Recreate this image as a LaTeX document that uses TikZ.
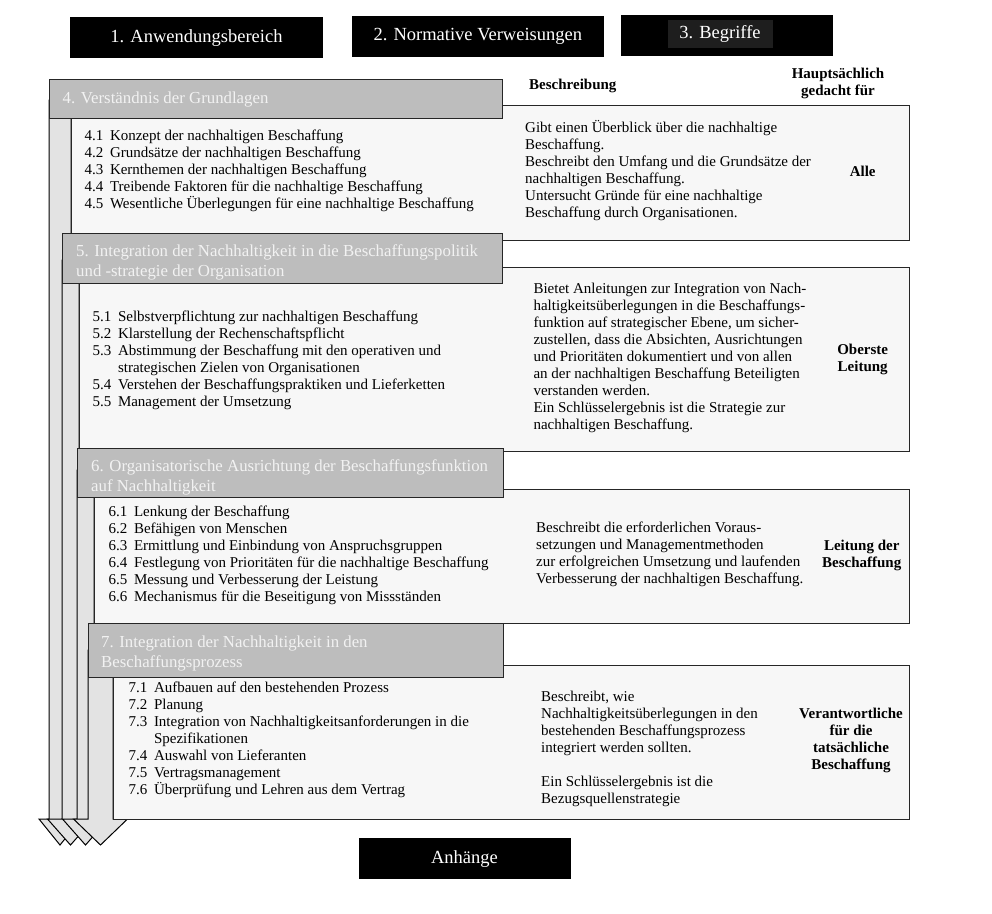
\documentclass[tikz,border=0pt]{standalone}
\usepackage{fontspec}
\setmainfont{Liberation Serif}
\definecolor{panelfill}{HTML}{F7F7F7}
\definecolor{shaftfill}{HTML}{E3E3E3}
\definecolor{hdrfill}{HTML}{BDBDBD}
\definecolor{hdrtext}{HTML}{F2F2F2}
\definecolor{edge}{HTML}{262626}
\definecolor{innerdark}{HTML}{1E1E1E}
\newcommand\secitem[2]{\makebox[25.5pt][l]{#1}#2}
\newcommand\secindent{\hspace*{25.5pt}}
\tikzset{
  topbox/.style={fill=black, text=white, font=\fontsize{18.5}{22}\selectfont, inner sep=0pt, minimum height=41pt},
  panel/.style={draw=edge, fill=panelfill, line width=1.3pt, anchor=north west, inner sep=0pt},
  hdr/.style={draw=edge, fill=hdrfill, line width=1.3pt, anchor=north west, inner sep=0pt},
  hdrtxt/.style={anchor=north west, inner sep=0pt, text=hdrtext, align=left, font=\fontsize{16.8}{20}\selectfont},
  body/.style={anchor=north west, inner sep=0pt, align=left, font=\fontsize{15}{17}\selectfont},
  who/.style={inner sep=0pt, align=center, font=\fontsize{15}{17}\selectfont\bfseries},
  shaft/.style={draw=black, fill=shaftfill, line width=1pt, line join=miter},
}
\begin{document}
\begin{tikzpicture}[x=1pt,y=-1pt]
\fill[white] (0,0) rectangle (992,913);
\useasboundingbox (0,0) rectangle (992,913);

% top boxes
\node[topbox, minimum width=253pt] (b1) at (196.5,37.8) {1. Anwendungsbereich};
\node[topbox, minimum width=252pt] (b2) at (477.8,36.2) {2. Normative Verweisungen};
\node[topbox, minimum width=212pt] (b3) at (727.2,35) {};
\node[fill=innerdark, inner sep=0pt, minimum width=105pt, minimum height=28pt, text=white, font=\fontsize{18.5}{22}\selectfont] (b3t) at (720,34) {3. Begriffe};

% column headings
\node[anchor=west, inner sep=0pt, font=\fontsize{15}{17}\selectfont\bfseries] (colA) at (529,85.5) {Beschreibung};
\node[who] (colB) at (838,83) {Hauptsächlich\\gedacht für};

% ---------- section 4
\draw[shaft] (49,100) -- (49,819) -- (39,819) -- (60,845) -- (81,819) -- (71,819) -- (71,100) -- cycle;
\node[panel, minimum width=838pt, minimum height=135pt] (p4) at (71,105) {};
\node[hdr, minimum width=453pt, minimum height=39pt] (h4) at (49,79) {};
\node[hdrtxt] (h4t) at (62.5,89) {\strut 4. Verständnis der Grundlagen};
\node[body] (i4) at (84.3,128.8) {\strut\secitem{4.1}{Konzept der nachhaltigen Beschaffung}\\
\secitem{4.2}{Grundsätze der nachhaltigen Beschaffung}\\
\secitem{4.3}{Kernthemen der nachhaltigen Beschaffung}\\
\secitem{4.4}{Treibende Faktoren für die nachhaltige Beschaffung}\\
\secitem{4.5}{Wesentliche Überlegungen für eine nachhaltige Beschaffung}};
\node[body] (d4) at (525,119.8) {\strut Gibt einen Überblick über die nachhaltige\\
Beschaffung.\\
Beschreibt den Umfang und die Grundsätze der\\
nachhaltigen Beschaffung.\\
Untersucht Gründe für eine nachhaltige\\
Beschaffung durch Organisationen.};
\node[who] (w4) at (862.7,171) {Alle};

% ---------- section 5
\draw[shaft] (62,260) -- (62,819) -- (47.5,819) -- (70.5,845) -- (93.5,819) -- (79,819) -- (79,260) -- cycle;
\node[panel, minimum width=830pt, minimum height=184pt] (p5) at (79,267) {};
\node[hdr, minimum width=440pt, minimum height=50pt] (h5) at (62,233) {};
\node[hdrtxt] (h5t) at (76,241.8) {\strut 5. Integration der Nachhaltigkeit in die Beschaffungspolitik\\
und -strategie der Organisation};
\node[body] (i5) at (92.3,309.8) {\strut\secitem{5.1}{Selbstverpflichtung zur nachhaltigen Beschaffung}\\
\secitem{5.2}{Klarstellung der Rechenschaftspflicht}\\
\secitem{5.3}{Abstimmung der Beschaffung mit den operativen und}\\
\secindent strategischen Zielen von Organisationen\\
\secitem{5.4}{Verstehen der Beschaffungspraktiken und Lieferketten}\\
\secitem{5.5}{Management der Umsetzung}};
\node[body] (d5) at (533.3,281.4) {\strut Bietet Anleitungen zur Integration von Nach-\\
haltigkeitsüberlegungen in die Beschaffungs-\\
funktion auf strategischer Ebene, um sicher-\\
zustellen, dass die Absichten, Ausrichtungen\\
und Prioritäten dokumentiert und von allen\\
an der nachhaltigen Beschaffung Beteiligten\\
verstanden werden.\\
Ein Schlüsselergebnis ist die Strategie zur\\
nachhaltigen Beschaffung.};
\node[who] (w5) at (862.7,359) {Oberste\\Leitung};

% ---------- section 6
\draw[shaft] (77,470) -- (77,819) -- (62.5,819) -- (85.5,845) -- (108.5,819) -- (94,819) -- (94,470) -- cycle;
\node[panel, minimum width=815pt, minimum height=134pt] (p6) at (94,489) {};
\node[hdr, minimum width=426pt, minimum height=49pt] (h6) at (77,448) {};
\node[hdrtxt] (h6t) at (91,457.5) {\strut 6. Organisatorische Ausrichtung der Beschaffungsfunktion\\
auf Nachhaltigkeit};
\node[body] (i6) at (108.3,504.8) {\strut\secitem{6.1}{Lenkung der Beschaffung}\\
\secitem{6.2}{Befähigen von Menschen}\\
\secitem{6.3}{Ermittlung und Einbindung von Anspruchsgruppen}\\
\secitem{6.4}{Festlegung von Prioritäten für die nachhaltige Beschaffung}\\
\secitem{6.5}{Messung und Verbesserung der Leistung}\\
\secitem{6.6}{Mechanismus für die Beseitigung von Missständen}};
\node[body] (d6) at (536,520.4) {\strut Beschreibt die erforderlichen Voraus-\\
setzungen und Managementmethoden\\
zur erfolgreichen Umsetzung und laufenden\\
Verbesserung der nachhaltigen Beschaffung.};
\node[who] (w6) at (861.7,555) {Leitung der\\Beschaffung};

% ---------- section 7
\draw[shaft] (88,650) -- (88,819) -- (73.5,819) -- (100.5,845) -- (127.5,819) -- (113,819) -- (113,650) -- cycle;
\node[panel, minimum width=796pt, minimum height=154pt] (p7) at (113,665) {};
\node[hdr, minimum width=415pt, minimum height=54pt] (h7) at (88,623) {};
\node[hdrtxt] (h7t) at (101,633) {\strut 7. Integration der Nachhaltigkeit in den\\
Beschaffungsprozess};
\node[body] (i7) at (128.3,680.8) {\strut\secitem{7.1}{Aufbauen auf den bestehenden Prozess}\\
\secitem{7.2}{Planung}\\
\secitem{7.3}{Integration von Nachhaltigkeitsanforderungen in die}\\
\secindent Spezifikationen\\
\secitem{7.4}{Auswahl von Lieferanten}\\
\secitem{7.5}{Vertragsmanagement}\\
\secitem{7.6}{Überprüfung und Lehren aus dem Vertrag}};
\node[body] (d7) at (541,689.8) {\strut Beschreibt, wie\\
Nachhaltigkeitsüberlegungen in den\\
bestehenden Beschaffungsprozess\\
integriert werden sollten.\\[17pt]
Ein Schlüsselergebnis ist die\\
Bezugsquellenstrategie};
\node[who] (w7) at (851,740.5) {Verantwortliche\\für die\\tatsächliche\\Beschaffung};

% annexes
\node[topbox, minimum width=212pt, minimum height=41pt] (anh) at (464.5,858.6) {Anhänge};
\end{tikzpicture}
\end{document}
